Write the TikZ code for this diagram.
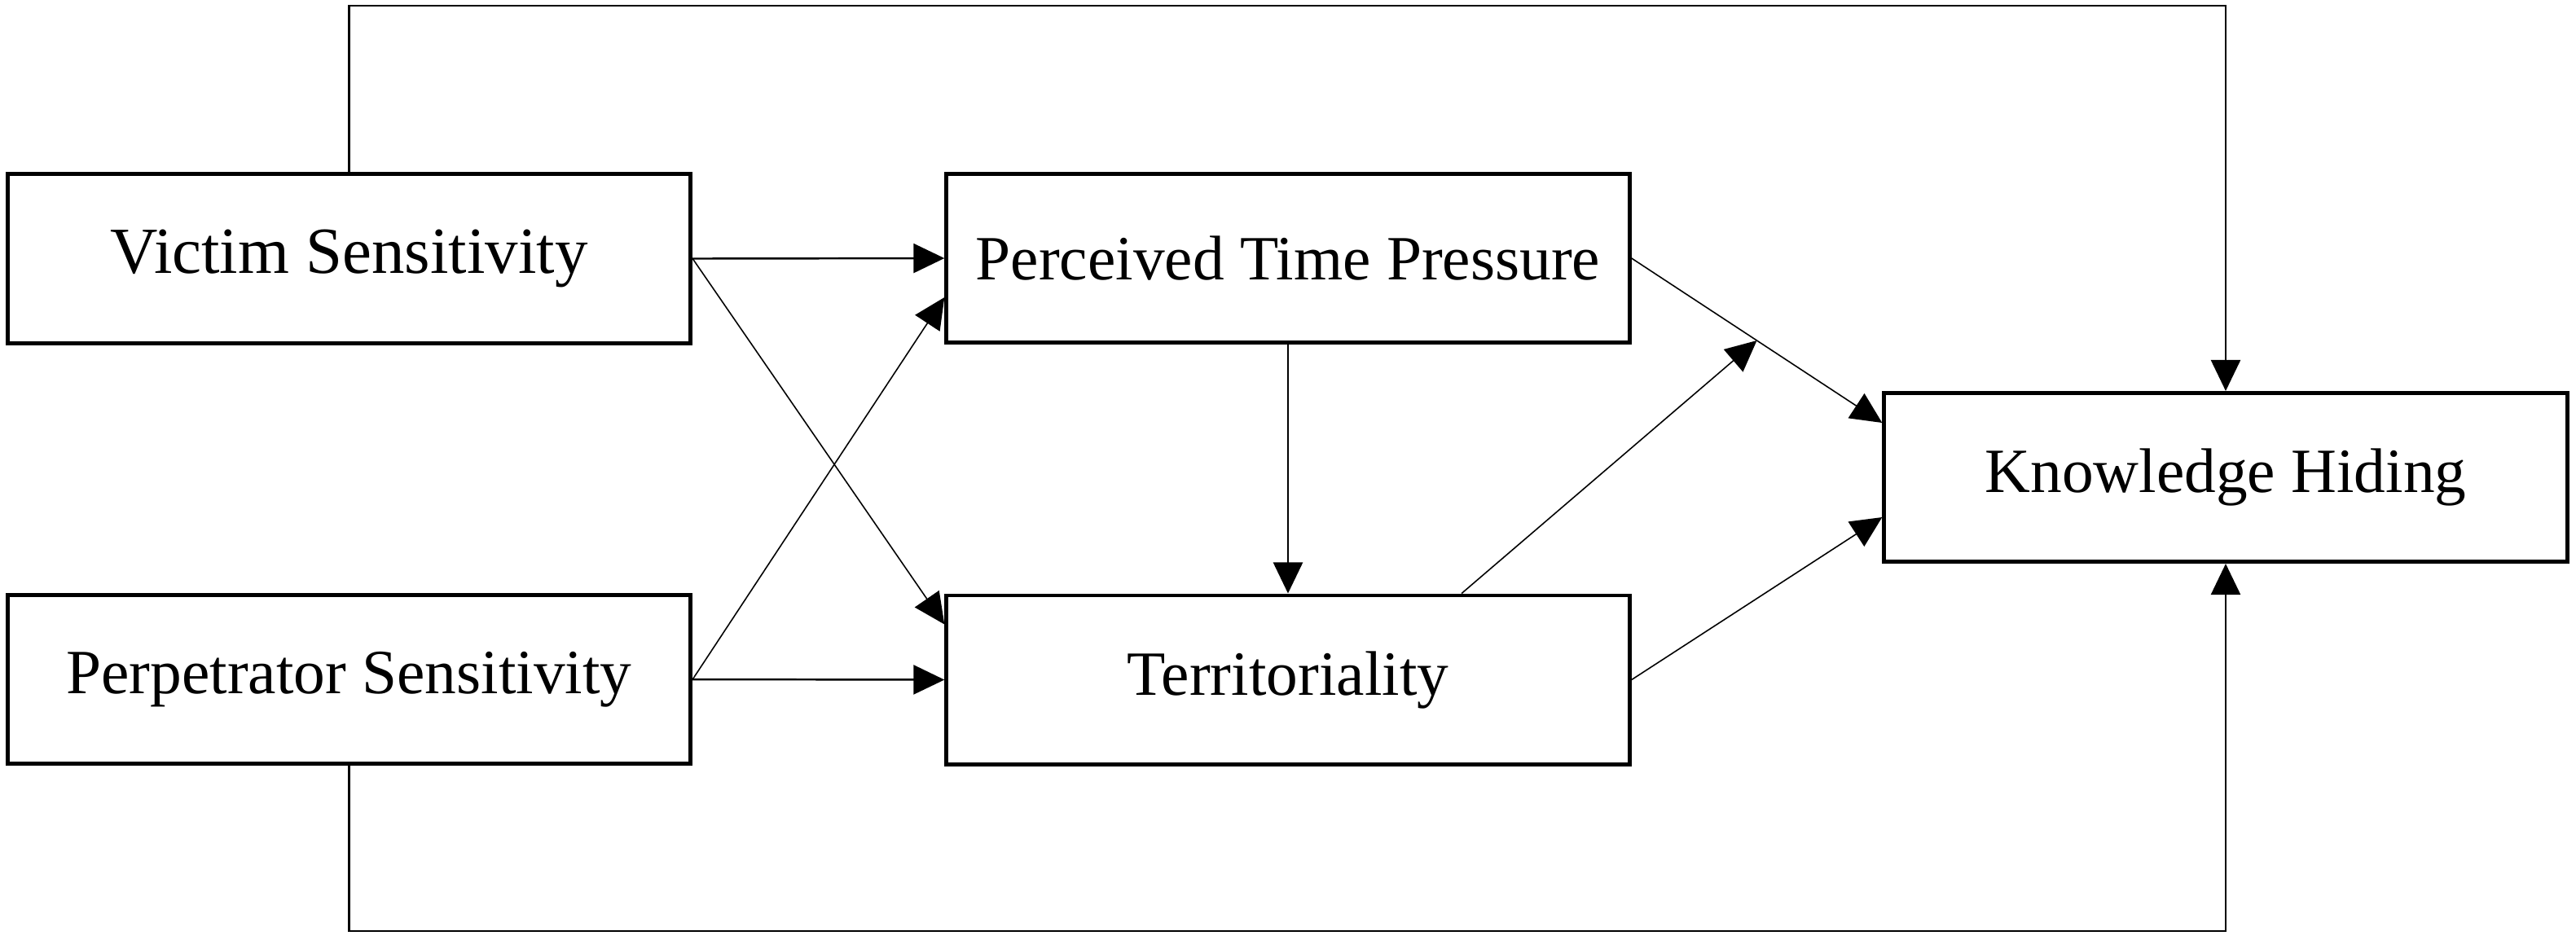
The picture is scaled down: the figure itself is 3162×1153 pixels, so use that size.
\documentclass[tikz,border=0pt]{standalone}
\usepackage{fontspec}
\setmainfont{Liberation Serif}
\usetikzlibrary{arrows.meta,calc}
\begin{document}
\begin{tikzpicture}[x=0.01cm,y=-0.01cm,
  box/.style={draw=black,line width=1.4pt,rectangle,inner sep=0pt,
    minimum width=8.38cm,minimum height=2.07cm,font=\fontsize{22}{26}\selectfont},
  conn/.style={draw=black,line width=0.7pt,-{Triangle[length=0.38cm,width=0.36cm]}},
  thin/.style={draw=black,line width=0.45pt,-{Triangle[length=0.38cm,width=0.36cm]}}]
\useasboundingbox (0,0) rectangle (3162,1153);
\fill[white] (0,0) rectangle (3162,1153);
\node[box,font=\fontsize{23}{27}\selectfont] (vs) at (428.5,317.5) {Victim Sensitivity};
\node[box] (ps) at (428.5,834) {Perpetrator Sensitivity};
\node[box] (ptp) at (1581,317) {Perceived Time Pressure};
\node[box] (ter) at (1581,834.5) {Territoriality};
\node[box] (kh) at (2732,586) {Knowledge Hiding};
\coordinate (top) at (0,7);
\coordinate (bot) at (0,1143);
\coordinate (kh1) at ([yshift=-0.39cm]kh.north west);
\coordinate (kh2) at ([yshift=0.57cm]kh.south west);
\coordinate (mid) at ($(ptp.east)!0.5!(kh1)$);
% horizontal arrows
\draw[conn] (vs.east) -- (ptp.west);
\draw[conn] (ps.east) -- (ter.west);
% crossing arrows
\draw[thin] (vs.east) -- ([yshift=-0.38cm]ter.north west);
\draw[thin] (ps.east) -- ([yshift=0.58cm]ptp.south west);
% mediator
\draw[conn] (ptp.south) -- (ter.north);
% to knowledge hiding
\draw[thin] (ptp.east) -- (kh1);
\draw[thin] (ter.east) -- (kh2);
\draw[thin] ([xshift=2.13cm]ter.north) -- (mid);
% direct paths
\draw[conn] (vs.north) -- (vs.north |- top) -| (kh.north);
\draw[conn] (ps.south) -- (ps.south |- bot) -| (kh.south);
\end{tikzpicture}
\end{document}
